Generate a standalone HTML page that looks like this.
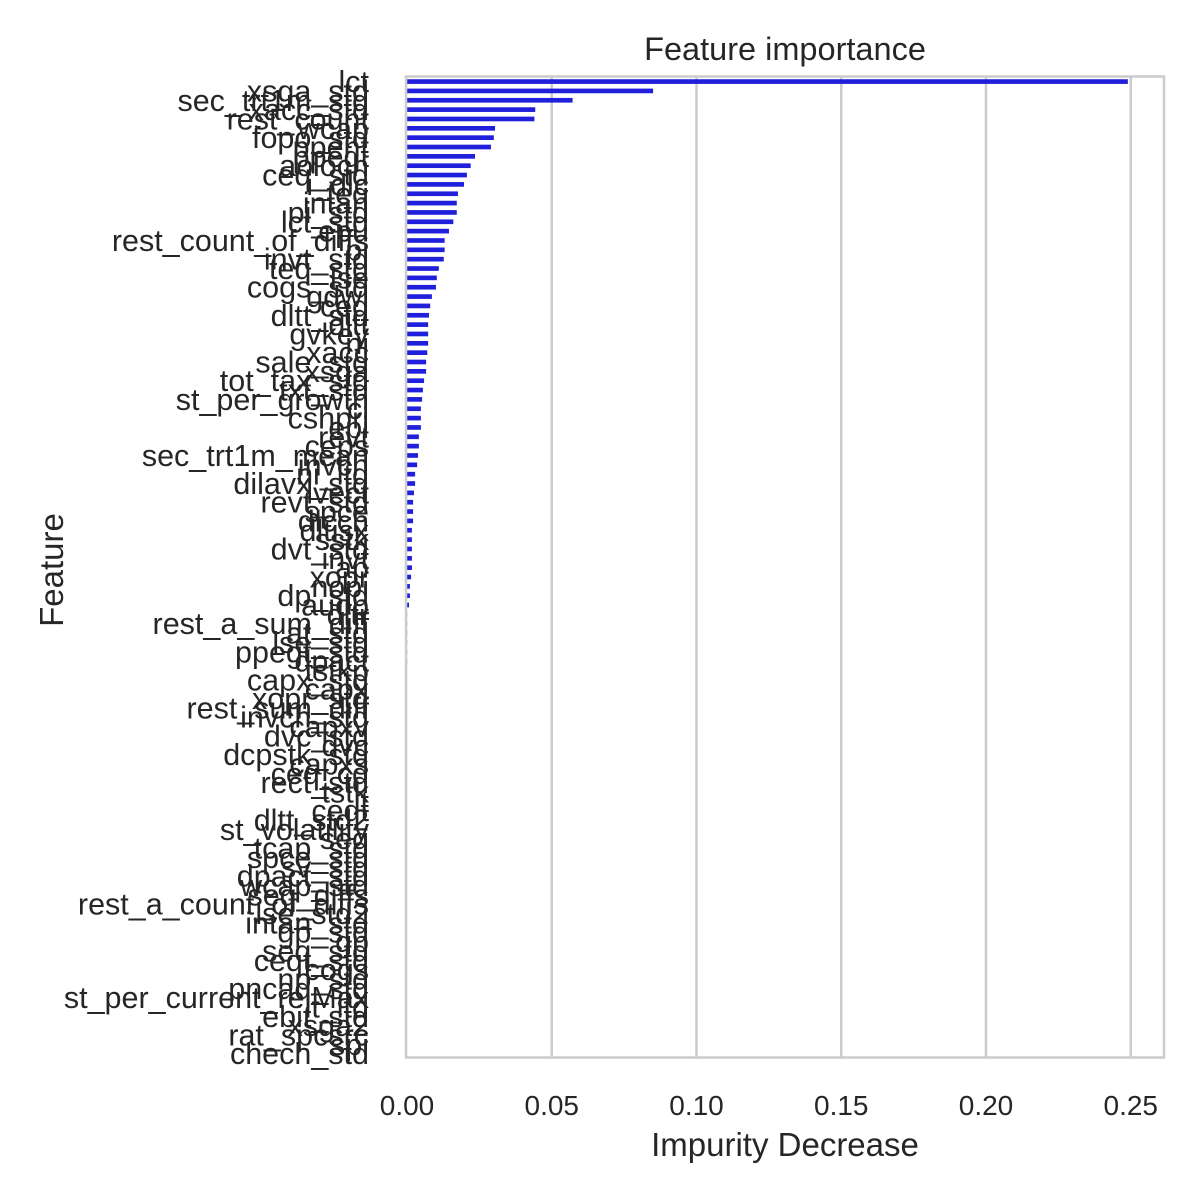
<!DOCTYPE html>
<html><head><meta charset="utf-8"><style>
body{margin:0;background:#fff}
svg{display:block}
text{font-family:"Liberation Sans",Arial,sans-serif;fill:#262626}
</style></head><body>
<svg id="chart" width="1200" height="1200" viewBox="0 0 1200 1200" xmlns="http://www.w3.org/2000/svg">
<rect width="1200" height="1200" fill="#fff"/>
<g id="grid"></g><g id="bars"></g><g id="ylabels"></g><g id="xticks"></g>
<rect x="406" y="76.5" width="758" height="981" fill="none" stroke="#cccccc" stroke-width="2.5"/>
<text x="785" y="60" font-size="32.5" text-anchor="middle">Feature importance</text>
<text x="785" y="1156" font-size="33" text-anchor="middle">Impurity Decrease</text>
<text transform="translate(63,570) rotate(-90)" font-size="33" text-anchor="middle">Feature</text>
</svg>
<script>
const features=["lct","xsga_std","sec_trt1m_std","xacc_std","rest_count","wcap","fopo_std","ppent","ppegt","aoloch","ceq_std","i_dlc","teq","intan","pi_std","lct_std","epu","rest_count_of_diffs","pi","invt_std","teq_std","lse","cogs_std","gdwl","ceq","dltt_std","dltt","gvkey","ni","xacc","sale_std","xsga","tot_tax_std","txt_std","st_per_growth","cl","cshpri","epi","revt","ceps","sec_trt1m_mean","invch","ni_ltd","dilavx_std","lvect","revt_std","spce","dlcch","dltisx","sstk","dvt_std","invt","ap","xopr","nopi","dp_std","auop","dltr","rest_a_sum_diff","at_std","lse_std","ppegt_std","dpact","tstkp","capx_std","capx","xopr_std","rest_sum_diff","invch_std","capxv","dvc_std","dvc","dcpstk_std","capxs","ceq_cd","rect_std","tstk","lt","ceqt","dltt_std2","st_volatility","seq","tcap_std","spce_std","sv_std","dpact_std","wcap_std","seq_diffs","rest_a_count_of_diffs","lse_std2","intan_std","gp_std","gp","seq_std","ceqt_std","cogs","np_std","pncad_std","st_per_current_relMax","lt_ltd","ebit_std","xsga2","rat_spcsrc","spi","chech_std"];
const importance=[0.249,0.085,0.0572,0.0443,0.044,0.0304,0.030,0.029,0.0235,0.022,0.0207,0.0197,0.0176,0.0172,0.0172,0.016,0.0145,0.013,0.013,0.0127,0.011,0.0103,0.010,0.0086,0.008,0.0076,0.0073,0.0073,0.0073,0.007,0.0066,0.0066,0.0059,0.0055,0.0052,0.0048,0.0048,0.0048,0.0041,0.0041,0.0038,0.0035,0.0028,0.0028,0.0024,0.0021,0.0021,0.0021,0.0017,0.0017,0.0017,0.0017,0.0017,0.0014,0.001,0.001,0.0007,0.0002,0.0002,0.0002,0.0002,0.0002,0.0002,0,0,0,0,0,0,0,0,0,0,0,0,0,0,0,0,0,0,0,0,0,0,0,0,0,0,0,0,0,0,0,0,0,0,0,0,0,0,0,0,0,0];
const xTicks=[0,0.05,0.10,0.15,0.20,0.25];
const xTickLabels=["0.00","0.05","0.10","0.15","0.20","0.25"];
const NS="http://www.w3.org/2000/svg";
const X0=407,XS=2895,Y0=76.9,STEP=981.5/features.length;
function xs(v){return X0+v*XS;}
function yc(i){return Y0+(i+0.5)*STEP;}
const grid=document.getElementById('grid'),bars=document.getElementById('bars'),yl=document.getElementById('ylabels'),xt=document.getElementById('xticks');
xTicks.forEach((t,k)=>{
  if(t>0){const l=document.createElementNS(NS,'line');
  l.setAttribute('x1',xs(t));l.setAttribute('x2',xs(t));l.setAttribute('y1',77);l.setAttribute('y2',1057);
  l.setAttribute('stroke','#cccccc');l.setAttribute('stroke-width','2.5');
  
  
  grid.appendChild(l);}
  const tx=document.createElementNS(NS,'text');
  tx.setAttribute('x',xs(t));tx.setAttribute('y',1115);tx.setAttribute('font-size','28');tx.setAttribute('text-anchor','middle');
  tx.textContent=xTickLabels[k];
  
  
  xt.appendChild(tx);
});
features.forEach((f,i)=>{
  const v=importance[i];
  if(v>0){const r=document.createElementNS(NS,'rect');
  r.setAttribute('x',X0);r.setAttribute('y',yc(i)-STEP*0.25);r.setAttribute('width',Math.max(v*XS,0.6));r.setAttribute('height',STEP*0.5);
  r.setAttribute('fill',v<0.0005?'#c8c8f4':'#2020dc');
  
  
  bars.appendChild(r);}
  const t=document.createElementNS(NS,'text');
  t.setAttribute('x',369);t.setAttribute('y',yc(i)+10.5);t.setAttribute('font-size','30.5');t.setAttribute('text-anchor','end');
  t.textContent=f;
  
  
  yl.appendChild(t);
});
</script>
</body></html>
